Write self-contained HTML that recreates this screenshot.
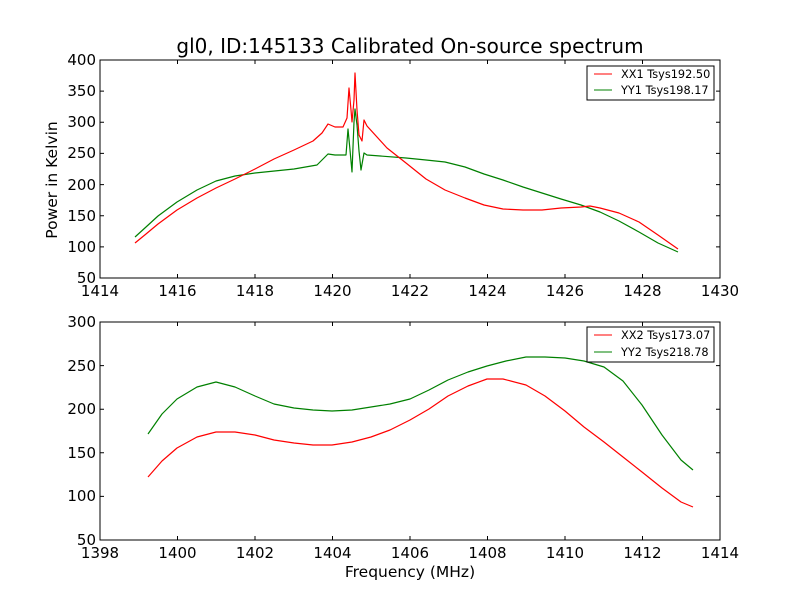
<!DOCTYPE html>
<html><head><meta charset="utf-8"><style>body{margin:0;background:#fff}svg{display:block}text{font-family:"DejaVu Sans","Liberation Sans",sans-serif}</style></head>
<body>
<svg width="800" height="600" viewBox="0 0 800 600" xmlns="http://www.w3.org/2000/svg">
<rect width="800" height="600" fill="#fff"/>
<text x="410" y="53" font-size="20" text-anchor="middle">gl0, ID:145133 Calibrated On-source spectrum</text>
<!-- top axes -->
<g fill="none" stroke-width="1.2" stroke-linejoin="round">
<polyline stroke="#008000" points="135,237 146,227 158,216 177,202 197,190 216,181 235,176 255,173 294,169 317,165 328,154 335,155 346,155 348,129 350,150 352,172 354,122 355,109 357,125 359,151 361,170 364,153 367,155 406,158 426,160 445,162 465,167 484,174 503,180 523,187 542,193 561,199 581,205 600,212 619,221 639,232 658,243 678,252"/>
<polyline stroke="#ff0000" points="135,243 146,234 158,224 177,210 197,198 216,188 235,179 255,169 274,159 294,150 313,141 322,133 328,124 335,127 343,127 347,118 349,88 351,110 352,122 354,100 355,73 357,110 359,135 362,141 364,120 367,126 387,148 406,163 426,179 445,190 465,198 484,205 503,209 523,210 542,210 561,208 581,207 590,206 600,208 619,213 639,222 658,235 678,249"/>
</g>
<rect x="100" y="60" width="620" height="218" fill="none" stroke="#000" stroke-width="1"/>
<g stroke="#000">
<path d="M177.5,278v-4M255,278v-4M332.5,278v-4M410,278v-4M487.5,278v-4M565,278v-4M642.5,278v-4M177.5,60v4M255,60v4M332.5,60v4M410,60v4M487.5,60v4M565,60v4M642.5,60v4"/>
<path d="M100,91.1h4M100,122.3h4M100,153.4h4M100,184.6h4M100,215.7h4M100,246.9h4M720,91.1h-4M720,122.3h-4M720,153.4h-4M720,184.6h-4M720,215.7h-4M720,246.9h-4"/>
</g>
<g font-size="15" text-anchor="middle">
<text x="100" y="296">1414</text><text x="177.5" y="296">1416</text><text x="255" y="296">1418</text><text x="332.5" y="296">1420</text><text x="410" y="296">1422</text><text x="487.5" y="296">1424</text><text x="565" y="296">1426</text><text x="642.5" y="296">1428</text><text x="720" y="296">1430</text>
</g>
<g font-size="15" text-anchor="end">
<text x="96" y="65">400</text><text x="96" y="96">350</text><text x="96" y="127">300</text><text x="96" y="158">250</text><text x="96" y="190">200</text><text x="96" y="221">150</text><text x="96" y="252">100</text><text x="96" y="283">50</text>
</g>
<text transform="translate(57,180) rotate(-90)" font-size="15.5" text-anchor="middle">Power in Kelvin</text>
<rect x="587" y="66" width="127" height="34" fill="#fff" stroke="#000"/>
<line x1="594" y1="74" x2="612" y2="74" stroke="#ff0000"/>
<line x1="594" y1="90" x2="612" y2="90" stroke="#008000"/>
<text x="621" y="78" font-size="11.3">XX1 Tsys192.50</text>
<text x="621" y="94" font-size="11.3">YY1 Tsys198.17</text>
<!-- bottom axes -->
<g fill="none" stroke-width="1.2" stroke-linejoin="round">
<polyline stroke="#ff0000" points="148,477 162,461 177,448 197,437 216,432 235,432 255,435 274,440 294,443 313,445 332,445 352,442 371,437 390,430 410,420 429,409 448,396 468,386 487,379 503,379 526,385 545,396 565,411 584,427 604,442 623,457 642,472 662,488 681,502 693,507"/>
<polyline stroke="#008000" points="148,434 162,414 177,399 197,387 216,382 235,387 255,396 274,404 294,408 313,410 332,411 352,410 371,407 390,404 410,399 429,390 448,380 468,372 487,366 506,361 526,357 545,357 565,358 584,361 604,367 623,381 642,405 662,435 681,460 693,470"/>
</g>
<rect x="100" y="322" width="620" height="218" fill="none" stroke="#000" stroke-width="1"/>
<g stroke="#000">
<path d="M177.5,540v-4M255,540v-4M332.5,540v-4M410,540v-4M487.5,540v-4M565,540v-4M642.5,540v-4M177.5,322v4M255,322v4M332.5,322v4M410,322v4M487.5,322v4M565,322v4M642.5,322v4"/>
<path d="M100,365.6h4M100,409.2h4M100,452.8h4M100,496.4h4M720,365.6h-4M720,409.2h-4M720,452.8h-4M720,496.4h-4"/>
</g>
<g font-size="15" text-anchor="middle">
<text x="100" y="558">1398</text><text x="177.5" y="558">1400</text><text x="255" y="558">1402</text><text x="332.5" y="558">1404</text><text x="410" y="558">1406</text><text x="487.5" y="558">1408</text><text x="565" y="558">1410</text><text x="642.5" y="558">1412</text><text x="720" y="558">1414</text>
</g>
<g font-size="15" text-anchor="end">
<text x="96" y="327">300</text><text x="96" y="371">250</text><text x="96" y="414">200</text><text x="96" y="458">150</text><text x="96" y="501">100</text><text x="96" y="545">50</text>
</g>
<text x="410" y="577" font-size="15.5" text-anchor="middle">Frequency (MHz)</text>
<rect x="587" y="327" width="127" height="35" fill="#fff" stroke="#000"/>
<line x1="594" y1="335" x2="612" y2="335" stroke="#ff0000"/>
<line x1="594" y1="352" x2="612" y2="352" stroke="#008000"/>
<text x="621" y="339" font-size="11.3">XX2 Tsys173.07</text>
<text x="621" y="356" font-size="11.3">YY2 Tsys218.78</text>
</svg>
</body></html>
